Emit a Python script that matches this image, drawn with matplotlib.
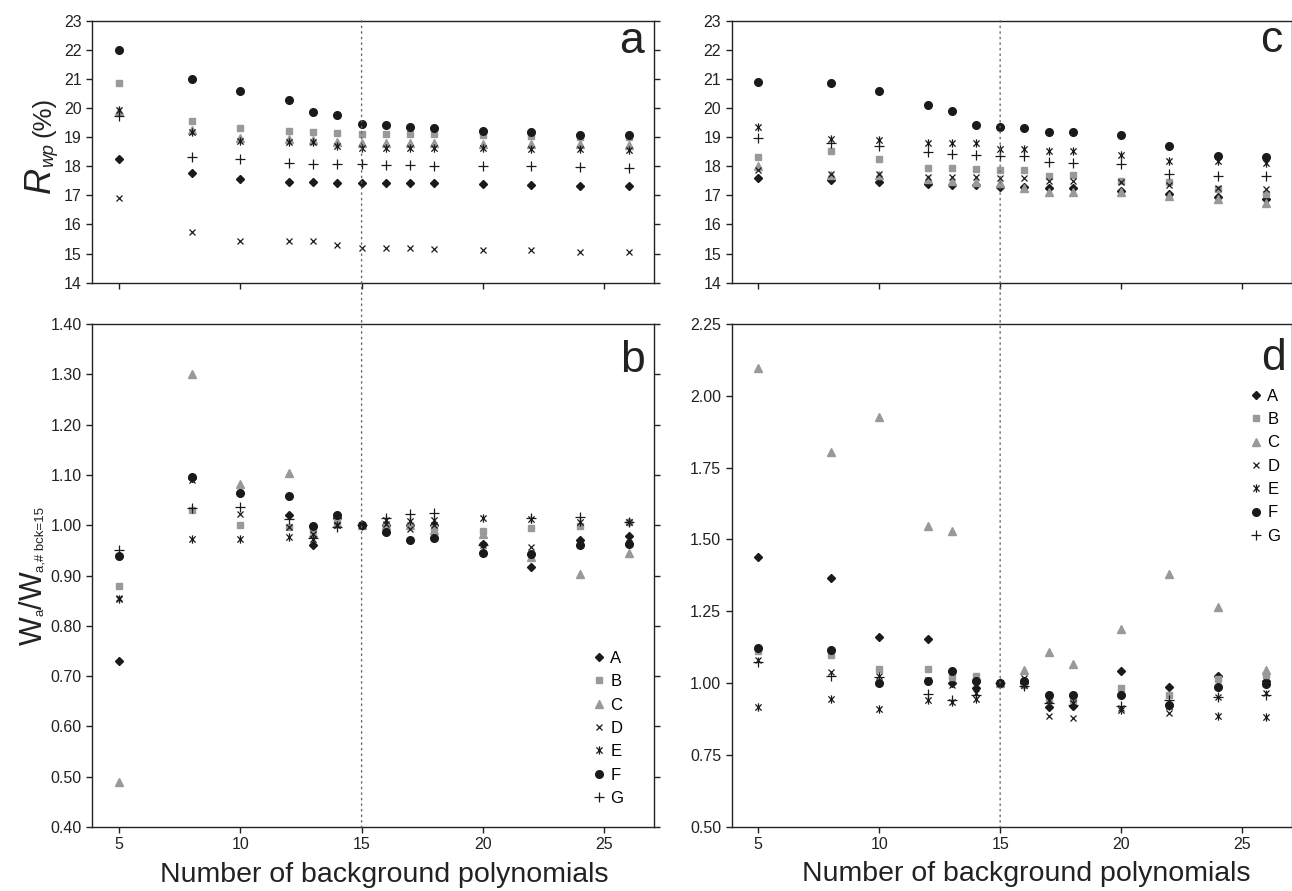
import matplotlib
matplotlib.use('Agg')
import matplotlib.pyplot as plt
from matplotlib.patches import ConnectionPatch
from matplotlib.path import Path
from matplotlib.transforms import IdentityTransform

plt.rcParams['font.family'] = ['Liberation Sans', 'DejaVu Sans']

# number of background polynomials
n_bck = [5, 8, 10, 12, 13, 14, 15, 16, 17, 18, 20, 22, 24, 26]
series = ['A', 'B', 'C', 'D', 'E', 'F', 'G']

# panel a: Rwp (%), rows follow series A..G
rwp_a = [
    [18.26, 17.78, 17.56, 17.47, 17.46, 17.41, 17.41, 17.41, 17.41, 17.41, 17.40, 17.37, 17.33, 17.33],
    [20.86, 19.54, 19.30, 19.20, 19.18, 19.14, 19.12, 19.12, 19.11, 19.10, 19.07, 19.05, 19.02, 19.00],
    [19.90, 19.25, 18.98, 18.95, 18.90, 18.85, 18.81, 18.80, 18.80, 18.80, 18.78, 18.77, 18.75, 18.74],
    [16.92, 15.75, 15.44, 15.43, 15.43, 15.29, 15.20, 15.20, 15.18, 15.16, 15.14, 15.11, 15.05, 15.04],
    [19.93, 19.19, 18.87, 18.84, 18.83, 18.70, 18.61, 18.61, 18.61, 18.61, 18.61, 18.59, 18.58, 18.56],
    [21.98, 21.00, 20.60, 20.27, 19.87, 19.76, 19.45, 19.42, 19.36, 19.31, 19.22, 19.19, 19.06, 19.06],
    [19.73, 18.31, 18.24, 18.12, 18.09, 18.08, 18.08, 18.05, 18.04, 18.02, 18.00, 18.00, 17.98, 17.94],
]

# panel b: Wa / Wa(#bck=15)
wa_b = [
    [0.730, 1.093, 1.065, 1.021, 0.960, 1.015, 1.0, 1.000, 1.000, 1.000, 0.962, 0.917, 0.970, 0.978],
    [0.880, 1.031, 1.000, 0.997, 0.990, 1.009, 1.0, 0.998, 1.000, 0.995, 0.989, 0.995, 0.998, 1.007],
    [0.490, 1.300, 1.082, 1.104, 0.985, 1.005, 1.0, 1.000, 1.000, 0.990, 0.983, 0.936, 0.903, 0.944],
    [0.855, 1.090, 1.023, 0.997, 0.983, 1.000, 1.0, 1.002, 0.992, 1.000, 0.960, 0.956, 0.965, 0.975],
    [0.853, 0.972, 0.972, 0.977, 0.972, 1.000, 1.0, 1.010, 1.009, 1.010, 1.015, 1.012, 1.007, 1.007],
    [0.938, 1.095, 1.064, 1.059, 0.998, 1.020, 1.0, 0.986, 0.970, 0.974, 0.944, 0.943, 0.961, 0.962],
    [0.951, 1.034, 1.037, 1.012, 0.975, 0.997, 1.0, 1.015, 1.022, 1.024, 0.960, 1.015, 1.017, 1.007],
]

# panel c: Rwp (%)
rwp_c = [
    [17.58, 17.52, 17.46, 17.40, 17.37, 17.34, 17.28, 17.29, 17.27, 17.27, 17.15, 17.04, 16.95, 16.89],
    [18.33, 18.51, 18.25, 17.95, 17.95, 17.92, 17.86, 17.86, 17.66, 17.69, 17.50, 17.46, 17.22, 17.06],
    [18.00, 17.69, 17.70, 17.55, 17.50, 17.46, 17.44, 17.27, 17.12, 17.12, 17.12, 16.97, 16.86, 16.75],
    [17.86, 17.75, 17.72, 17.63, 17.63, 17.63, 17.61, 17.60, 17.48, 17.48, 17.46, 17.35, 17.24, 17.23],
    [19.35, 18.95, 18.91, 18.80, 18.80, 18.80, 18.59, 18.59, 18.52, 18.52, 18.39, 18.19, 18.17, 18.12],
    [20.89, 20.85, 20.57, 20.12, 19.89, 19.41, 19.35, 19.33, 19.19, 19.19, 19.08, 18.71, 18.35, 18.32],
    [18.98, 18.80, 18.71, 18.48, 18.42, 18.39, 18.34, 18.34, 18.15, 18.11, 18.07, 17.72, 17.67, 17.67],
]

# panel d: Wa / Wa(#bck=15)
wa_d = [
    [1.438, 1.367, 1.162, 1.152, 1.000, 0.983, 1.0, 1.000, 0.916, 0.921, 1.041, 0.986, 1.026, 1.006],
    [1.110, 1.099, 1.049, 1.049, 1.021, 1.026, 1.0, 0.994, 0.942, 0.942, 0.983, 0.959, 1.015, 1.029],
    [2.096, 1.806, 1.927, 1.547, 1.531, 1.020, 1.0, 1.047, 1.108, 1.067, 1.188, 1.380, 1.266, 1.047],
    [1.081, 1.037, 1.023, 1.012, 0.994, 0.965, 1.0, 1.017, 0.887, 0.878, 0.913, 0.895, 0.953, 0.965],
    [0.915, 0.944, 0.909, 0.940, 0.935, 0.944, 1.0, 0.994, 0.942, 0.930, 0.907, 0.920, 0.886, 0.881],
    [1.122, 1.114, 1.000, 1.006, 1.041, 1.006, 1.0, 1.006, 0.959, 0.959, 0.958, 0.923, 0.986, 0.998],
    [1.072, 1.023, 1.020, 0.963, 0.942, 0.959, 1.0, 0.990, 0.930, 0.924, 0.919, 0.942, 0.950, 0.959],
]

black = '#1a1a1a'
grey = '#999999'
# x with a vertical bar, like the asterisk symbol of the original
asterisk = Path([(0, -1), (0, 1), (-0.75, -0.75), (0.75, 0.75), (-0.75, 0.75), (0.75, -0.75)],
                [Path.MOVETO, Path.LINETO] * 3)
styles = {
    'A': dict(marker='D', ms=4.2, color=black, mec=black),
    'B': dict(marker='s', ms=5, color=grey, mec=grey),
    'C': dict(marker='^', ms=5.5, color=grey, mec=grey),
    'D': dict(marker='x', ms=5, color=black, mew=0.9),
    'E': dict(marker=asterisk, ms=6, color=black, mew=0.9),
    'F': dict(marker='o', ms=5.5, color=black, mec=black),
    'G': dict(marker='+', ms=6.5, color=black, mew=0.9),
}

fig = plt.figure(figsize=(12.92, 8.91), dpi=100)
ax_a = fig.add_axes([0.0714, 0.6827, 0.4348, 0.2941])
ax_b = fig.add_axes([0.0714, 0.0718, 0.4348, 0.5645])
ax_c = fig.add_axes([0.5663, 0.6827, 0.4334, 0.2941])
ax_d = fig.add_axes([0.5663, 0.0722, 0.4334, 0.5642])


def draw(ax, rows):
    for name, vals in zip(series, rows):
        ax.plot(n_bck, vals, linestyle='none', label=name, **styles[name])
    ax.set_xlim(3.9, 27.05)
    ax.set_xticks([5, 10, 15, 20, 25])
    for sp in ax.spines.values():
        sp.set_color('#222222')
        sp.set_linewidth(1.0)
    ax.tick_params(direction='out', length=4, width=1, labelsize=11.5,
                   pad=3.5, colors='#222222', right=True)


draw(ax_a, rwp_a)
draw(ax_b, wa_b)
draw(ax_c, rwp_c)
draw(ax_d, wa_d)

for ax in (ax_a, ax_c):
    ax.set_ylim(14, 23)
    ax.set_yticks(range(14, 24))
    ax.tick_params(labelbottom=False)

ax_b.set_ylim(0.40, 1.40)
ax_b.set_yticks([0.4 + 0.1 * i for i in range(11)])
ax_b.set_yticklabels(['%.2f' % (0.4 + 0.1 * i) for i in range(11)])
ax_d.set_ylim(0.50, 2.25)
ax_d.set_yticks([0.5 + 0.25 * i for i in range(8)])
ax_d.set_yticklabels(['%.2f' % (0.5 + 0.25 * i) for i in range(8)])

for ax, fx in ((ax_b, 0.52), (ax_d, 0.5255)):
    ax.set_xlabel('Number of background polynomials', fontsize=20.5,
                  color='#222222')
    ax.xaxis.set_label_coords(fx, -0.069)


def vertical_label(x_px, y_px, parts):
    # rotated label built from pieces of different size, read bottom to top
    renderer = fig.canvas.get_renderer()
    y = 891 - y_px
    for txt, size, drop, style, gap in parts:
        y += gap
        t = fig.text(x_px + drop, y, txt, rotation=90, rotation_mode='anchor',
                     ha='left', va='baseline', fontsize=size, style=style,
                     color='#222222', transform=IdentityTransform())
        y += t.get_window_extent(renderer).height


vertical_label(50, 193, [('R', 26, 0, 'italic', 0), ('wp', 13.5, 3, 'italic', 0),
                         ('(%)', 18.5, 0, 'normal', 6)])
vertical_label(41.5, 645, [('W', 22, 0, 'normal', 0), ('a', 9.5, 2, 'normal', 0),
                           ('/', 22, 0, 'normal', 0), ('W', 22, 0, 'normal', 0),
                           ('a,# bck=15', 9.5, 2, 'normal', 0)])

# panel letters
for ax, lab, x, y in ((ax_a, 'a', 0.982, 0.877), (ax_c, 'c', 0.984, 0.88),
                      (ax_b, 'b', 0.984, 0.905), (ax_d, 'd', 0.99, 0.908)):
    ax.text(x, y, lab, transform=ax.transAxes, ha='right', va='baseline',
            fontsize=32, color='#222222')

for ax, anchor in ((ax_b, (0.8896, 0.35)), (ax_d, (0.924, 0.871))):
    ax.legend(loc='upper left', bbox_to_anchor=anchor, frameon=False,
              fontsize=12, handlelength=0.8, handletextpad=0.3,
              borderaxespad=0, borderpad=0, labelspacing=0.5)

# dotted reference line at 15 polynomials through both rows
for top, bot in ((ax_a, ax_b), (ax_c, ax_d)):
    con = ConnectionPatch(xyA=(15, top.get_ylim()[1]), coordsA=top.transData,
                          xyB=(15, bot.get_ylim()[0]), coordsB=bot.transData,
                          linestyle=(0, (1, 3)), color='#666666', lw=1)
    fig.add_artist(con)

fig.savefig('out.png', dpi=100)
